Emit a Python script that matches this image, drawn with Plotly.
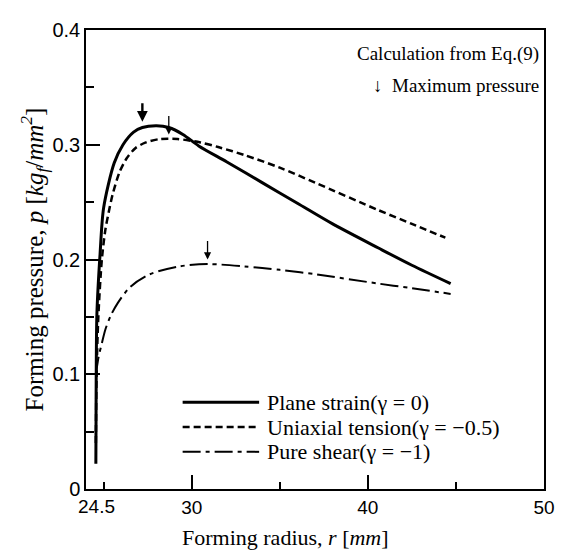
import plotly.graph_objects as go

# ---------------- data ----------------
r_plane = [24.56, 24.57, 24.58, 24.62, 24.8, 25.0, 25.6, 26.1, 26.7, 27.2, 28.0, 28.7,
           29.5, 30.4, 32.0, 34.0, 36.0, 38.0, 40.6, 42.5, 44.7]
p_plane = [0.022, 0.06, 0.10, 0.153, 0.205, 0.245, 0.284, 0.300, 0.311, 0.315, 0.3165, 0.315,
           0.309, 0.299, 0.285, 0.267, 0.249, 0.231, 0.210, 0.195, 0.179]

r_uni = [24.56, 24.60, 24.70, 24.90, 25.10, 25.30, 25.50, 25.90, 26.30, 26.80, 27.40, 28.20,
         29.20, 30.50, 31.50, 33.0, 35.0, 37.0, 40.6, 42.5, 44.4]
p_uni = [0.040, 0.100, 0.150, 0.200, 0.226, 0.242, 0.256, 0.276, 0.288, 0.297, 0.302, 0.305,
         0.305, 0.302, 0.298, 0.291, 0.280, 0.267, 0.243, 0.231, 0.219]

r_shear = [24.56, 24.70, 24.90, 25.10, 25.40, 25.80, 26.50, 27.60, 29.30, 30.90, 33.0, 35.0,
           37.1, 40.6, 42.5, 44.7]
p_shear = [0.100, 0.114, 0.127, 0.139, 0.151, 0.162, 0.176, 0.187, 0.194, 0.196, 0.194, 0.191,
           0.187, 0.179, 0.175, 0.170]

series_names = ["Plane strain(γ = 0)", "Uniaxial tension(γ = −0.5)", "Pure shear(γ = −1)"]
max_r = [27.2, 28.7, 30.9]
max_p = [0.316, 0.305, 0.196]

x_tickvals = [30, 40, 50]
x_minor = [25, 35, 45]
y_tickvals = [0, 0.1, 0.2, 0.3, 0.4]
y_minor = [0.05, 0.15, 0.25, 0.35]

# ---------------- figure ----------------
styles = [dict(color="black", width=3, dash="solid"),
          dict(color="black", width=2.5, dash="7px,4px"),
          dict(color="black", width=2, dash="18px,5px,4px,5px")]

fig = go.Figure()
for (rx, py), name, st in zip([(r_plane, p_plane), (r_uni, p_uni), (r_shear, p_shear)],
                              series_names, styles):
    fig.add_trace(go.Scatter(x=rx, y=py, mode="lines", name=name,
                             line=dict(st, shape="spline", smoothing=0.8),
                             showlegend=False))

# arrows marking maximum pressure
arrow_w = [2.4, 1.3, 1.3]
arrow_s = [0.9, 1.1, 1.1]
for xr, yp, w, s in zip(max_r, max_p, arrow_w, arrow_s):
    fig.add_annotation(x=xr, y=yp + 0.004, ax=0, ay=-20, xref="x", yref="y",
                       showarrow=True, arrowhead=2, arrowsize=s, arrowwidth=w,
                       arrowcolor="black", text="")

serif = "Liberation Serif, Times New Roman, serif"
sans = "Liberation Sans, Arial, sans-serif"

# text block top right
fig.add_annotation(x=0.993, y=0.947, xref="paper", yref="paper", xanchor="right", yanchor="middle",
                   text="Calculation from Eq.(9)", showarrow=False,
                   font=dict(family=serif, size=19, color="black"))
fig.add_annotation(x=0.993, y=0.879, xref="paper", yref="paper", xanchor="right", yanchor="middle",
                   text="↓  Maximum pressure", showarrow=False,
                   font=dict(family=serif, size=19, color="black"))

# manual legend
leg_y = [0.189, 0.135, 0.081]
for name, st, ly in zip(series_names, styles, leg_y):
    fig.add_shape(type="line", xref="paper", yref="paper", x0=0.211, x1=0.378, y0=ly, y1=ly,
                  line=st)
    fig.add_annotation(x=0.392, y=ly, xref="paper", yref="paper", xanchor="left", yanchor="middle",
                       text=name, showarrow=False, borderpad=0,
                       font=dict(family=serif, size=22, color="black"))

# "24.5" tick label
fig.add_annotation(x=24.6, y=0, xref="x", yref="y", yshift=-5, yanchor="top", xanchor="center",
                   text="24.5", showarrow=False, font=dict(family=sans, size=19, color="black"))

# x axis title (offset left as in the reference)
fig.add_annotation(x=0.435, y=0, xref="paper", yref="paper", yshift=-48, yanchor="middle",
                   xanchor="center", text="Forming radius, <i>r</i> [<i>mm</i>]", showarrow=False,
                   font=dict(family=serif, size=22, color="black"))

fig.update_layout(
    width=558, height=543,
    margin=dict(l=78, r=11, t=14, b=62),
    plot_bgcolor="white", paper_bgcolor="white",
    showlegend=False,
)
fig.update_xaxes(range=[24.0, 50], tickvals=x_tickvals, ticktext=[str(v) for v in x_tickvals],
                 ticks="inside", ticklen=14, tickwidth=1.5, tickcolor="black",
                 minor=dict(tickvals=x_minor, ticks="inside", ticklen=7, tickwidth=1.5, tickcolor="black"),
                 showline=True, linecolor="black", linewidth=1.5, mirror=True, showgrid=False, zeroline=False,
                 tickfont=dict(family=sans, size=19, color="black"))
fig.update_yaxes(range=[0, 0.4], tickvals=y_tickvals, ticktext=["0", "0.1", "0.2", "0.3", "0.4"],
                 ticks="inside", ticklen=14, tickwidth=1.5, tickcolor="black",
                 minor=dict(tickvals=y_minor, ticks="inside", ticklen=8, tickwidth=1.5, tickcolor="black"),
                 showline=True, linecolor="black", linewidth=1.5, mirror=True, showgrid=False, zeroline=False,
                 tickfont=dict(family=sans, size=20, color="black"),
                 title=dict(text="Forming pressure, <i>p</i> [<i>kg<sub>f</sub></i>/<i>mm<sup>2</sup></i>]",
                            standoff=2, font=dict(family=serif, size=25, color="black")))

fig.write_html("out.html")
